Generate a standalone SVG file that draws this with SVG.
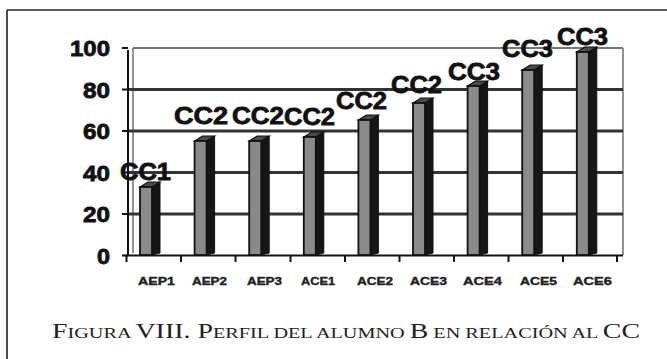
<svg xmlns="http://www.w3.org/2000/svg" width="667" height="359" viewBox="0 0 667 359">
<style>
.frame{stroke:#222;stroke-width:1.6;fill:none}
.grid{stroke:#333;stroke-width:2.8}
.gridtop{stroke:#777;stroke-width:2}
.wall{stroke:#888;stroke-width:1.8}
.axis{stroke:#111;stroke-width:2}
.front{fill:#8a8a8a;stroke:#111;stroke-width:1.8}
.side{fill:#161616;stroke:#111;stroke-width:1}
.top{fill:#4a4a4a;stroke:#111;stroke-width:1.2}
.num{font-family:"Liberation Sans",Arial,sans-serif;font-weight:bold;font-size:22px;fill:#111;stroke:#111;stroke-width:0.8}
.lbl{font-family:"Liberation Sans",Arial,sans-serif;font-weight:bold;font-size:23px;fill:#111;stroke:#111;stroke-width:0.8}
.cat{font-family:"Liberation Sans",Arial,sans-serif;font-weight:bold;font-size:11px;fill:#222;stroke:#222;stroke-width:0.4}
.cap{font-family:"Liberation Serif","Times New Roman",serif;fill:#222}
</style>
<rect width="667" height="359" fill="#fff"/>
<g id="frame">
<line class="frame" x1="7" y1="10" x2="7" y2="359"/>
<line class="frame" x1="7" y1="10" x2="667" y2="10"/>
</g>
<g id="plot">
<line class="wall" x1="133" y1="48" x2="133" y2="253"/>
<line class="wall" x1="623" y1="48" x2="623" y2="255"/>
<line class="gridtop" x1="133" y1="48" x2="623" y2="48"/>
<line class="grid" x1="128" y1="89.5" x2="623" y2="89.5"/>
<line class="grid" x1="128" y1="131" x2="623" y2="131"/>
<line class="grid" x1="128" y1="172.5" x2="623" y2="172.5"/>
<line class="grid" x1="128" y1="214" x2="623" y2="214"/>
<line class="axis" x1="128" y1="50" x2="128" y2="256"/>
<line class="axis" x1="126" y1="255.5" x2="623" y2="255.5"/>
<g class="axis">
<line x1="122" y1="48" x2="128" y2="48"/>
<line x1="122" y1="89.5" x2="128" y2="89.5"/>
<line x1="122" y1="131" x2="128" y2="131"/>
<line x1="122" y1="172.5" x2="128" y2="172.5"/>
<line x1="122" y1="214" x2="128" y2="214"/>
<line x1="122" y1="255.5" x2="128" y2="255.5"/>
<line x1="126.5" y1="255" x2="126.5" y2="262"/>
<line x1="181" y1="255" x2="181" y2="262"/>
<line x1="235.5" y1="255" x2="235.5" y2="262"/>
<line x1="290.5" y1="255" x2="290.5" y2="262"/>
<line x1="345" y1="255" x2="345" y2="262"/>
<line x1="399.5" y1="255" x2="399.5" y2="262"/>
<line x1="454" y1="255" x2="454" y2="262"/>
<line x1="508.5" y1="255" x2="508.5" y2="262"/>
<line x1="563" y1="255" x2="563" y2="262"/>
<line x1="617" y1="255" x2="617" y2="262"/>
</g>
</g>
<g id="yaxis-labels">
<text class="num" x="70" y="56" textLength="40" lengthAdjust="spacingAndGlyphs">100</text>
<text class="num" x="83" y="97.5" textLength="27" lengthAdjust="spacingAndGlyphs">80</text>
<text class="num" x="83" y="139" textLength="27" lengthAdjust="spacingAndGlyphs">60</text>
<text class="num" x="83" y="180.5" textLength="27" lengthAdjust="spacingAndGlyphs">40</text>
<text class="num" x="83" y="222" textLength="27" lengthAdjust="spacingAndGlyphs">20</text>
<text class="num" x="97" y="263.5" textLength="13" lengthAdjust="spacingAndGlyphs">0</text>
</g>
<g id="bars">
<g id="bar-AEP1"><polygon class="side" points="152,187 160,182 160,253 152,255"/><polygon class="top" points="140,187 148,182 160,182 152,187"/><rect class="front" x="140" y="187" width="12" height="68"/></g>
<g id="bar-AEP2"><polygon class="side" points="206.6,141 214.6,136 214.6,253 206.6,255"/><polygon class="top" points="194.6,141 202.6,136 214.6,136 206.6,141"/><rect class="front" x="194.6" y="141" width="12" height="114"/></g>
<g id="bar-AEP3"><polygon class="side" points="261.2,141 269.2,136 269.2,253 261.2,255"/><polygon class="top" points="249.2,141 257.2,136 269.2,136 261.2,141"/><rect class="front" x="249.2" y="141" width="12" height="114"/></g>
<g id="bar-ACE1"><polygon class="side" points="315.8,137 323.8,132 323.8,253 315.8,255"/><polygon class="top" points="303.8,137 311.8,132 323.8,132 315.8,137"/><rect class="front" x="303.8" y="137" width="12" height="118"/></g>
<g id="bar-ACE2"><polygon class="side" points="370.4,120 378.4,115 378.4,253 370.4,255"/><polygon class="top" points="358.4,120 366.4,115 378.4,115 370.4,120"/><rect class="front" x="358.4" y="120" width="12" height="135"/></g>
<g id="bar-ACE3"><polygon class="side" points="425,103 433,98 433,253 425,255"/><polygon class="top" points="413,103 421,98 433,98 425,103"/><rect class="front" x="413" y="103" width="12" height="152"/></g>
<g id="bar-ACE4"><polygon class="side" points="479.6,86 487.6,81 487.6,253 479.6,255"/><polygon class="top" points="467.6,86 475.6,81 487.6,81 479.6,86"/><rect class="front" x="467.6" y="86" width="12" height="169"/></g>
<g id="bar-ACE5"><polygon class="side" points="534.2,70 542.2,65 542.2,253 534.2,255"/><polygon class="top" points="522.2,70 530.2,65 542.2,65 534.2,70"/><rect class="front" x="522.2" y="70" width="12" height="185"/></g>
<g id="bar-ACE6"><polygon class="side" points="588.8,52 596.8,47 596.8,253 588.8,255"/><polygon class="top" points="576.8,52 584.8,47 596.8,47 588.8,52"/><rect class="front" x="576.8" y="52" width="12" height="203"/></g>
</g>
<g id="bar-labels">
<text class="lbl" x="120" y="180" textLength="51" lengthAdjust="spacingAndGlyphs">CC1</text>
<text class="lbl" x="174" y="124" textLength="54" lengthAdjust="spacingAndGlyphs">CC2</text>
<text class="lbl" x="232" y="124" textLength="52" lengthAdjust="spacingAndGlyphs">CC2</text>
<text class="lbl" x="284" y="125" textLength="51" lengthAdjust="spacingAndGlyphs">CC2</text>
<text class="lbl" x="336" y="109" textLength="51" lengthAdjust="spacingAndGlyphs">CC2</text>
<text class="lbl" x="391" y="93" textLength="51" lengthAdjust="spacingAndGlyphs">CC2</text>
<text class="lbl" x="448" y="80" textLength="52" lengthAdjust="spacingAndGlyphs">CC3</text>
<text class="lbl" x="502" y="57" textLength="51" lengthAdjust="spacingAndGlyphs">CC3</text>
<text class="lbl" x="557" y="45" textLength="51" lengthAdjust="spacingAndGlyphs">CC3</text>
</g>
<g id="category-labels">
<text class="cat" x="138" y="285" textLength="37" lengthAdjust="spacingAndGlyphs">AEP1</text>
<text class="cat" x="192" y="285" textLength="35" lengthAdjust="spacingAndGlyphs">AEP2</text>
<text class="cat" x="247" y="285" textLength="35" lengthAdjust="spacingAndGlyphs">AEP3</text>
<text class="cat" x="301" y="285" textLength="34" lengthAdjust="spacingAndGlyphs">ACE1</text>
<text class="cat" x="357" y="285" textLength="36" lengthAdjust="spacingAndGlyphs">ACE2</text>
<text class="cat" x="410" y="285" textLength="37" lengthAdjust="spacingAndGlyphs">ACE3</text>
<text class="cat" x="463" y="285" textLength="39" lengthAdjust="spacingAndGlyphs">ACE4</text>
<text class="cat" x="520" y="285" textLength="37" lengthAdjust="spacingAndGlyphs">ACE5</text>
<text class="cat" x="573" y="285" textLength="39" lengthAdjust="spacingAndGlyphs">ACE6</text>
</g>
<g id="caption">
<text class="cap" x="52" y="338" textLength="588" lengthAdjust="spacingAndGlyphs"><tspan font-size="20">F</tspan><tspan font-size="14.5">IGURA </tspan><tspan font-size="20">VIII. P</tspan><tspan font-size="14.5">ERFIL DEL ALUMNO </tspan><tspan font-size="20">B</tspan><tspan font-size="14.5"> EN RELACIÓN AL </tspan><tspan font-size="20">CC</tspan></text>
</g>
</svg>
